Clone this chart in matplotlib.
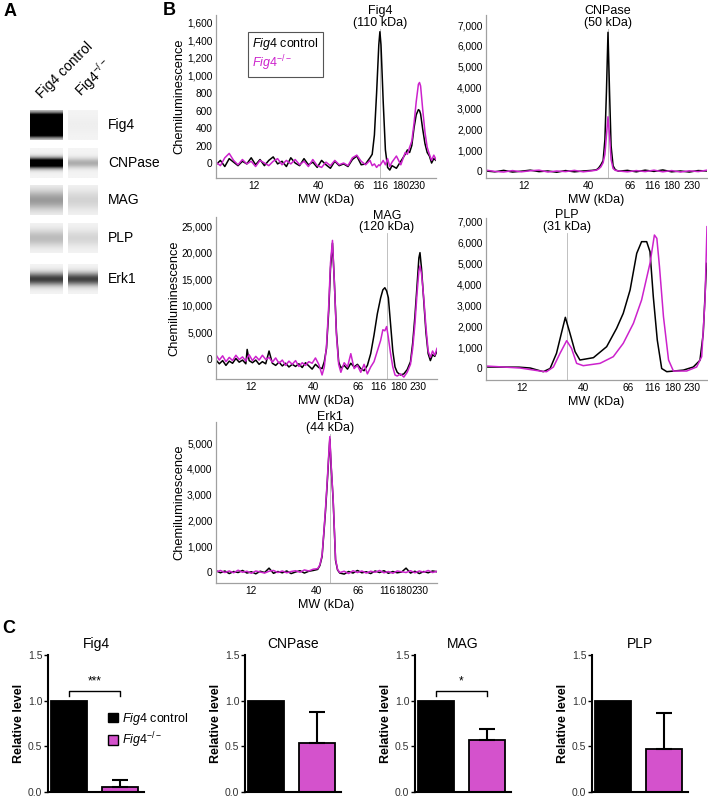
import matplotlib
matplotlib.use("Agg")
import matplotlib.pyplot as plt
import matplotlib.transforms as mtransforms
import numpy as np
from matplotlib.lines import Line2D
from matplotlib.patches import Patch
from matplotlib.ticker import FuncFormatter

plt.rcParams["font.family"] = ["Liberation Sans", "DejaVu Sans"]
plt.rcParams["mathtext.fontset"] = "custom"
plt.rcParams["mathtext.rm"] = "Liberation Sans"
plt.rcParams["mathtext.it"] = "Liberation Sans:italic"

W, H = 708, 800
MAGENTA = "#cc22cc"
BAR_MAGENTA = "#d452cc"

# ---- panel A: simulated lanes (band darkness per protein) ----
band_names = ["Fig4", "CNPase", "MAG", "PLP", "Erk1"]
band_ctrl = [5.0, 1.4, 0.35, 0.22, 0.72]
band_ko = [0.02, 0.28, 0.13, 0.12, 0.70]
band_sigma = [6.0, 3.5, 7.0, 6.0, 4.5]  # band thickness (style)

# ---- panel B: electropherograms, x in per-mille of capillary length ----
ladder_kda = ["12", "40", "66", "116", "180", "230"]

fig4_ticks = [173, 464, 650, 745, 841, 914]
fig4_x = [0, 20, 40, 60, 80, 100, 120, 140, 160, 180, 200, 220, 240, 260, 280, 300, 320, 340,
          360, 380, 400, 420, 440, 460, 480, 500, 520, 540, 560, 580, 600, 620, 640, 660, 680, 700,
          710, 720, 730, 740, 745, 750, 760, 770, 780, 790, 800, 820, 840, 860, 870, 880, 890, 900,
          910, 920, 925, 930, 940, 950, 960, 970, 980, 990, 1000]
fig4_ctrl = [-20, 30, -40, 50, 10, -30, 20, -10, 60, -20, 40, -30, 30, 70, -10, 20, -40, 60,
             0, -30, 50, -20, 10, -50, 30, -20, -60, 20, -30, -10, -40, 40, 80, -20, -10, 60,
             100, 320, 800, 1350, 1500, 1350, 700, 150, -50, -80, -30, -60, 20, 100, 150, 120, 200, 400,
             550, 610, 600, 560, 380, 220, 120, 80, 0, 50, 30]
fig4_ko = [10, -30, 60, 110, 30, -20, 40, -10, 20, -40, 30, 0, -30, 20, 50, -20, 30, -10,
           40, -20, 20, -40, 40, -30, -50, 10, -30, 30, -20, 0, -30, 60, 90, 20, -20, 30,
           -30, -10, -50, -20, -30, -10, 30, -20, 50, -40, 10, 80, -20, 120, 100, 180, 250, 450,
           700, 900, 920, 880, 600, 350, 180, 100, 30, 90, 40]

cnp_ticks = [172, 462, 652, 751, 842, 932]
cnp_x = [0, 40, 80, 120, 160, 200, 240, 280, 320, 360, 400, 440, 480,
         500, 510, 520, 530, 538, 545, 552, 559, 566, 575, 585, 600,
         640, 680, 720, 760, 800, 840, 880, 920, 960, 1000]
cnp_ctrl = [0, -40, 30, -50, -10, 40, -30, 0, -60, 20, -40, 0, 30,
            60, 150, 300, 500, 1500, 3800, 6650, 3800, 1200, 250, 60, -10,
            30, -40, 40, -20, 50, -40, 0, -50, 20, 0]
cnp_ko = [40, -20, -50, 20, -40, 10, 40, -50, 0, -30, 30, -40, 10,
          40, 100, 200, 400, 800, 1700, 2600, 1700, 550, 120, 30, 0,
          -40, 20, -30, 40, -40, 20, -50, 10, -30, 40]

mag_ticks = [159, 441, 641, 736, 828, 914]
mag_x = [0, 15, 30, 45, 60, 75, 90, 105, 120, 135, 141, 150, 165, 180, 195, 210, 225, 240, 255, 270,
         285, 300, 315, 330, 345, 360, 375, 390, 405, 420, 435, 450, 465, 480, 490, 500, 510, 518, 527, 535,
         545, 555, 565, 580, 595, 610, 625, 640, 655, 670, 685, 700, 715, 730, 745, 755, 764, 772, 780, 790,
         800, 810, 820, 835, 850, 865, 880, 890, 900, 910, 918, 923, 930, 940, 950, 960, 970, 980, 990, 1000]
mag_ctrl = [-200, -900, -300, -1200, -400, -800, 100, -600, -200, -900,
            1800, -300, -700, -200, -1000, -500, -900, 1500, -800, -1200,
            -600, -1300, -800, -1500, -1000, -1400, -900, -1600, -700, -1300,
            -1900, -1000, -1600, -1800, -500, 2000, 9000, 17000, 21800, 15000,
            5000, -500, -1700, -1200, -1900, -800, -1500, -1000, -1800, -2200,
            -1200, 1000, 4500, 8500, 11500, 13000, 13400, 12800, 11500, 6500,
            1500, -1500, -2500, -3000, -2800, -2000, -500, 3000, 8000, 14000,
            19000, 20000, 17000, 11000, 5000, 1000, -300, 800, 500, 1500]
mag_ko = [800, -200, 600, -500, 300, -300, 700, -100, 400, -400,
          200, 800, -300, 500, -200, 700, -100, 300, -600, 200,
          -800, -200, -1200, -400, -1000, -300, -1400, -700, -1200, -500,
          -800, 200, -1000, -3000, -1500, 2500, 10000, 18000, 22300, 15000,
          4500, -1000, -2500, -700, -1500, 1000, -1800, -1200, -2500, -1000,
          -2800, -1500, -500, 1500, 3500, 5500, 5300, 6100, 4000, 1000,
          -1500, -3000, -3200, -2800, -3400, -2500, -1000, 2000, 6500, 12500,
          16500, 17500, 16000, 11500, 6000, 1500, 300, 1500, 700, 2000]

plp_ticks = [163, 439, 643, 751, 846, 932]
plp_ctrl_x = [0, 150, 200, 259, 290, 319, 341, 359, 380, 403, 425, 486, 546, 591, 621,
              652, 682, 704, 727, 742, 757, 775, 795, 818, 893, 938, 968, 983, 998]
plp_ctrl = [48, 40, 0, -175, -24, 700, 1650, 2413, 1650, 778, 381, 492, 1016, 1889, 2603,
            3714, 5460, 6016, 6016, 5540, 3397, 1333, -24, -175, -100, 48, 365, 1650, 4984]
plp_ko_x = [0, 154, 244, 274, 305, 335, 365, 387, 410, 440, 516, 576, 621, 667,
            704, 742, 762, 773, 785, 803, 826, 848, 908, 953, 976, 991, 1000]
plp_ko = [95, 0, -143, -175, 48, 700, 1302, 937, 222, 111, 222, 540, 1175, 2127,
          3238, 4984, 6333, 6175, 4826, 2445, 381, -143, -143, 48, 540, 3238, 6730]

erk_ticks = [159, 455, 641, 777, 850, 923]
erk_x = [0, 20, 40, 60, 80, 100, 120, 140, 160, 180, 200, 220, 240, 260, 280, 300, 320, 340,
         360, 380, 400, 420, 440, 460, 470, 480, 488, 495, 503, 509, 515, 521, 530, 541, 550, 560,
         580, 600, 620, 640, 660, 680, 700, 720, 740, 760, 780, 800, 820, 840, 860, 880, 900, 920,
         940, 960, 980, 1000]
erk_ctrl = [50, -30, 40, -60, 20, -20, 60, -40, 10, -70, 30, -20, 150, -50, 20, -30, 40, -60,
            0, 50, -40, 30, 60, 100, 250, 600, 1500, 2300, 3400, 4300, 5150, 4100, 2800, 450, 80, -40,
            -80, 20, -40, 60, -30, 10, -60, 40, -20, 50, -50, 20, -30, 0, 150, -40, 30, -60,
            20, -30, 40, 10]
erk_ko = [0, 60, -20, 40, -30, 70, -10, 30, -50, 40, 0, -40, 30, 60, -20, 40, -30, 20,
          50, -10, 80, 40, 110, 130, 280, 650, 1550, 2400, 3500, 4400, 5250, 4150, 2850, 500, 100, -20,
          30, -60, 50, -20, 40, -40, 30, -10, 60, -30, 20, -50, 40, 10, -20, 50, -30, 40,
          -10, 60, -20, 30]

# ---- panel C: quantification ----
c_names = ["Fig4", "CNPase", "MAG", "PLP"]
c_ctrl = [1.0, 1.0, 1.0, 1.0]
c_ko = [0.06, 0.54, 0.57, 0.47]
c_ko_err = [0.07, 0.34, 0.12, 0.40]
c_sig = ["***", "", "*", ""]

fig = plt.figure(figsize=(W / 100, H / 100), dpi=100)


def px_axes(left, top, right, bottom):
    return fig.add_axes([left / W, 1 - bottom / H, (right - left) / W, (bottom - top) / H])


bg = px_axes(0, 0, W, H)
bg.axis("off")

# panel A
lane_x = [(30, 63), (68, 98)]
row_y = [125, 163, 200, 238, 279]
yy = np.linspace(-15, 15, 61)
for i, name in enumerate(band_names):
    c = row_y[i]
    for j, amp in enumerate([band_ctrl[i], band_ko[i]]):
        prof = np.minimum(1.0, 0.045 + amp * np.exp(-0.5 * (yy / band_sigma[i]) ** 2))
        img = np.tile(prof[:, None], (1, 20))
        x0, x1 = lane_x[j]
        bg.imshow(img, extent=(x0, x1, c + 15, c - 15), cmap="gray_r", vmin=0, vmax=1,
                  aspect="auto", interpolation="bilinear")
    bg.text(108, c, name, va="center", ha="left", fontsize=10)
bg.set_xlim(0, W)
bg.set_ylim(H, 0)
bg.text(42, 99, "Fig4 control", rotation=45, rotation_mode="anchor", ha="left", va="baseline", fontsize=10)
bg.text(81, 97, r"Fig4$^{-/-}$", rotation=45, rotation_mode="anchor", ha="left", va="baseline", fontsize=10)

bg.text(4, 3, "A", fontsize=13, fontweight="bold", va="top")
bg.text(163, 2, "B", fontsize=13, fontweight="bold", va="top")
bg.text(2, 620, "C", fontsize=13, fontweight="bold", va="top")


def trace_panel(box, ylim, ystep, ticks, marker, top_frac, title, curves, ylabel):
    ax = px_axes(*box)
    for xs, ys, color in curves:
        ax.plot(xs, ys, color=color, lw=1.1)
    ax.set_xlim(0, 1000)
    ax.set_ylim(*ylim)
    ax.set_yticks(np.arange(0, ylim[1], ystep))
    ax.yaxis.set_major_formatter(FuncFormatter(lambda v, p: f"{v:,.0f}"))
    ax.set_xticks(ticks)
    ax.set_xticklabels(ladder_kda)
    ax.tick_params(length=0, labelsize=7.3, pad=2.5)
    for s in ("top", "right"):
        ax.spines[s].set_visible(False)
    for s in ("left", "bottom"):
        ax.spines[s].set_color("#a0a0a0")
        ax.spines[s].set_linewidth(0.9)
    ax.set_xlabel("MW (kDa)", fontsize=9, labelpad=1.5)
    if ylabel:
        ax.set_ylabel("Chemiluminescence", fontsize=9.3, labelpad=1)
    ax.axvline(marker, ymax=top_frac, color="#b5b5b5", lw=0.6, zorder=0)
    trans = mtransforms.blended_transform_factory(ax.transData, ax.transAxes)
    ax.text(marker, top_frac, title, transform=trans, ha="center", va="bottom",
            fontsize=9, linespacing=0.95)
    return ax


ax_fig4 = trace_panel((216, 15, 436, 178), (-171, 1691), 200, fig4_ticks, 745, 0.914,
                      "Fig4\n(110 kDa)",
                      [(fig4_x, fig4_ctrl, "black"), (fig4_x, fig4_ko, MAGENTA)], True)
trace_panel((486, 15, 707, 178), (-336, 7480), 1000, cnp_ticks, 552, 0.914,
            "CNPase\n(50 kDa)",
            [(cnp_x, cnp_ctrl, "black"), (cnp_x, cnp_ko, MAGENTA)], False)
trace_panel((216, 217, 437, 379), (-3760, 26700), 5000, mag_ticks, 773, 0.90,
            "MAG\n(120 kDa)",
            [(mag_x, mag_ctrl, "black"), (mag_x, mag_ko, MAGENTA)], True)
trace_panel((486, 218, 707, 380), (-571, 7143), 1000, plp_ticks, 367, 0.91,
            "PLP\n(31 kDa)",
            [(plp_ctrl_x, plp_ctrl, "black"), (plp_ko_x, plp_ko, MAGENTA)], False)
trace_panel((216, 422, 437, 583), (-426, 5814), 1000, erk_ticks, 516, 0.925,
            "Erk1\n(44 kDa)",
            [(erk_x, erk_ctrl, "black"), (erk_x, erk_ko, MAGENTA)], True)

leg = ax_fig4.legend([Line2D([], [], lw=0), Line2D([], [], lw=0)],
                     [r"$\it{Fig4}$ control", r"$\it{Fig4}^{-/-}$"],
                     loc="upper left", bbox_to_anchor=(0.115, 0.935), handlelength=0,
                     handletextpad=0, fontsize=9, frameon=True, fancybox=False,
                     edgecolor="#555555", framealpha=1, borderpad=0.35, labelspacing=0.1)
leg.get_frame().set_linewidth(0.8)
for t, col in zip(leg.get_texts(), ["black", MAGENTA]):
    t.set_color(col)

# panel C
c_left = [48, 245, 415, 592]
for i, name in enumerate(c_names):
    ax = px_axes(c_left[i], 655, c_left[i] + 96, 792)
    ax.bar([0, 1], [c_ctrl[i], c_ko[i]], width=0.7, color=["black", BAR_MAGENTA],
           edgecolor="black", linewidth=1.3)
    ax.errorbar([1], [c_ko[i]], yerr=[[0], [c_ko_err[i]]], fmt="none", ecolor="black",
                elinewidth=1.5, capsize=6, capthick=1.5)
    ax.set_xlim(-0.41, 1.47)
    ax.set_ylim(0, 1.5)
    ax.set_yticks([0, 0.5, 1.0, 1.5])
    ax.set_yticklabels(["0.0", "0.5", "1.0", "1.5"])
    ax.set_xticks([])
    ax.tick_params(axis="y", length=3, width=1, labelsize=7.5, pad=1, labelcolor="#333333")
    for s in ("top", "right"):
        ax.spines[s].set_visible(False)
    for s in ("left", "bottom"):
        ax.spines[s].set_linewidth(1.5)
    ax.set_ylabel("Relative level", fontweight="bold", fontsize=9, labelpad=2)
    ax.set_title(name, fontsize=10, pad=5)
    if c_sig[i]:
        ax.plot([0, 0, 1, 1], [1.05, 1.11, 1.11, 1.05], color="black", lw=1)
        ax.text(0.5, 1.15, c_sig[i], ha="center", va="bottom", fontsize=8.5)
    if i == 0:
        ax.legend([Patch(fc="black", ec="black"), Patch(fc=BAR_MAGENTA, ec="black")],
                  [r"$\it{Fig4}$ control", r"$\it{Fig4}^{-/-}$"],
                  loc="center left", bbox_to_anchor=(0.63, 0.45), frameon=False,
                  handlelength=0.8, handleheight=0.8, handletextpad=0.25,
                  labelspacing=0.3, borderpad=0, borderaxespad=0, fontsize=9)

fig.savefig("out.png", dpi=100)
